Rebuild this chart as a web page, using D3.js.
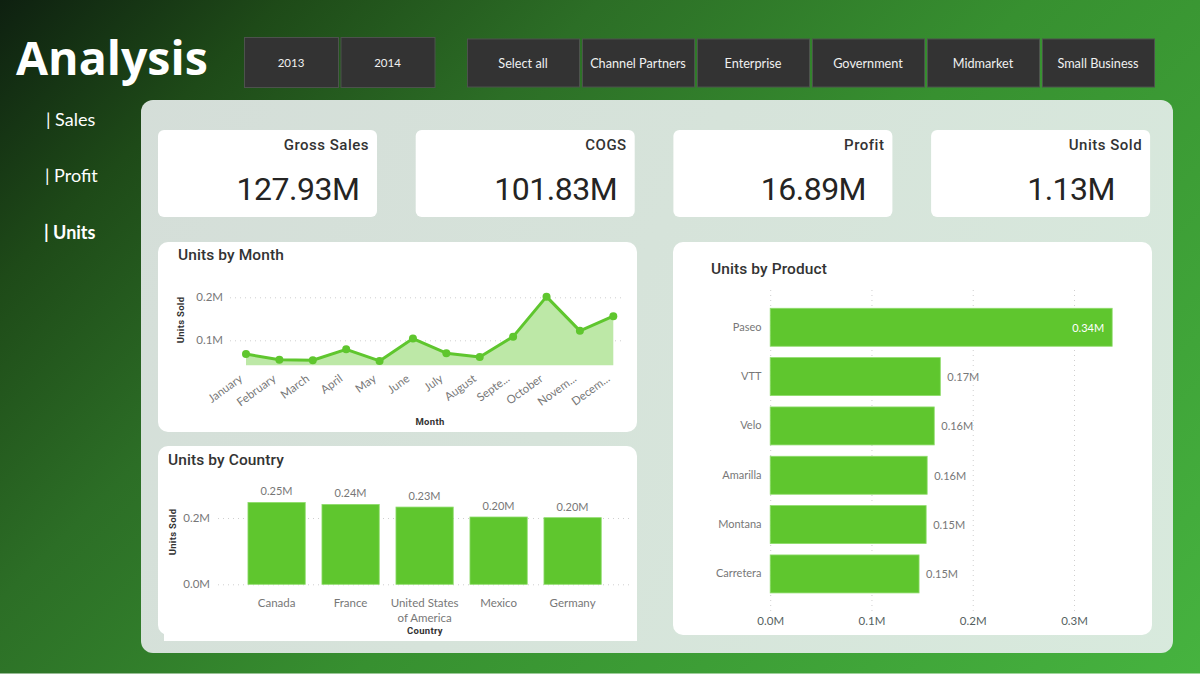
<!DOCTYPE html>
<html>
<head>
<meta charset="utf-8">
<script src="https://cdn.jsdelivr.net/npm/d3@7"></script>
<style>
html,body{margin:0;padding:0;background:#fff;overflow:hidden;}
svg{display:block;}
</style>
</head>
<body>
<script>
var years = ['2013','2014'];
var segments = ['Select all','Channel Partners','Enterprise','Government','Midmarket','Small Business'];
var navItems = ['| Sales','| Profit','| Units'];
var kpiNames = ['Gross Sales','COGS','Profit','Units Sold'];
var kpiValues = ['127.93M','101.83M','16.89M','1.13M'];

var months = ['January','February','March','April','May','June','July','August','September','October','November','December'];
var monthLabels = ['January','February','March','April','May','June','July','August','Septe...','October','Novem...','Decem...'];
var monthUnits = [0.068,0.055,0.0535,0.079,0.052,0.104,0.070,0.061,0.1085,0.2015,0.122,0.156];
var monthTicks = [0.1,0.2];

var countries = ['Canada','France','United States of America','Mexico','Germany'];
var countryUnits = [0.247,0.241,0.233,0.203,0.201];
var countryLabels = ['0.25M','0.24M','0.23M','0.20M','0.20M'];
var countryTicks = [0,0.2];

var products = ['Paseo','VTT','Velo','Amarilla','Montana','Carretera'];
var productUnits = [0.3377,0.168,0.162,0.155,0.154,0.147];
var productLabels = ['0.34M','0.17M','0.16M','0.16M','0.15M','0.15M'];
var productTicks = [0,0.1,0.2,0.3];

var din = 'Roboto, sans-serif';
var segoe = 'Lato, sans-serif';
var green = '#5fc62e';
var fmt = function(d){return d.toFixed(1) + 'M';};

var svg = d3.select('body').append('svg').attr('width',1200).attr('height',675);
var defs = svg.append('defs');

function gradient(id,x2,y2,stops){
	var g = defs.append('linearGradient').attr('id',id)
		.attr('gradientUnits','userSpaceOnUse')
		.attr('x1',0).attr('y1',0).attr('x2',x2).attr('y2',y2);
	stops.forEach(function(s){
		g.append('stop').attr('offset',s[0]).attr('stop-color',s[1]);
	});
}
gradient('bg',937,937,[[0,'#0e2010'],[0.15,'#1e4a18'],[0.32,'#2c6e26'],[0.55,'#379030'],[1,'#46b33f']]);
gradient('panel',1200,674,[[0,'#d4dcd8'],[0.5,'#d6e3da'],[1,'#d8eadd']]);

svg.append('rect').attr('width',1200).attr('height',673.5).attr('fill','url(#bg)');

// header
svg.append('text').attr('x',16).attr('y',75).text('Analysis')
	.attr('font-family','"Open Sans", sans-serif').attr('font-weight',700).attr('font-size',46.5).attr('fill','#fff');

function buttons(names,x0,step,w,y,h,size){
	var b = svg.append('g').selectAll('g').data(names).enter().append('g')
		.attr('transform',function(d,i){return 'translate(' + (x0 + i * step) + ',' + y + ')';});
	b.append('rect').attr('x',0.5).attr('y',0.5).attr('width',w).attr('height',h)
		.attr('fill','#333333').attr('stroke','#4d524d');
	b.append('text').attr('x',w / 2).attr('y',h / 2 + size * 0.37 + 1).text(function(d){return d;})
		.attr('text-anchor','middle').attr('font-family',segoe).attr('font-size',size).attr('fill','#f0f0f0');
}
buttons(years,244,96.5,94,37,50,11.5);
buttons(segments,467,115,112,38.5,48,12.7);

// side nav
svg.append('g').selectAll('text').data(navItems).enter().append('text')
	.attr('x',function(d,i){return [46,45,44][i];})
	.attr('y',function(d,i){return 126 + i * 56.3;})
	.text(function(d){return d;})
	.attr('font-family',segoe).attr('font-size',18)
	.attr('font-weight',function(d,i){return i === 2 ? 700 : 400;})
	.attr('fill','#fff');

// panel and cards
svg.append('rect').attr('x',141).attr('y',100).attr('width',1032).attr('height',553).attr('rx',12).attr('fill','url(#panel)');

var kpi = svg.append('g').selectAll('g').data(kpiNames).enter().append('g')
	.attr('transform',function(d,i){return 'translate(' + (158 + i * 257.7) + ',130)';});
kpi.append('rect').attr('width',219).attr('height',87).attr('rx',6).attr('fill','#fff');
kpi.append('text').attr('x',211).attr('y',20).attr('text-anchor','end').text(function(d){return d;})
	.attr('font-family',din).attr('font-weight',500).attr('font-size',15).attr('letter-spacing',0.5).attr('fill','#333');
kpi.append('text').attr('x',140).attr('y',70).attr('text-anchor','middle').text(function(d,i){return kpiValues[i];})
	.attr('font-family',din).attr('font-size',32).attr('letter-spacing',-0.5).attr('fill','#252423');

function card(x,y,w,h,title,tx,ty){
	svg.append('rect').attr('x',x).attr('y',y).attr('width',w).attr('height',h).attr('rx',10).attr('fill','#fff');
	svg.append('text').attr('x',tx).attr('y',ty).text(title)
		.attr('font-family',din).attr('font-weight',500).attr('font-size',15.5).attr('letter-spacing',0.1).attr('fill','#333');
}
card(158,242,479,190,'Units by Month',178,260);
card(158,446,479,189,'Units by Country',168,465);
svg.append('rect').attr('x',164).attr('y',620).attr('width',473).attr('height',21).attr('fill','#fff');
card(673,242,479,393,'Units by Product',711,274);

function styleAxis(g,size,color){
	g.select('.domain').remove();
	g.selectAll('.tick line').attr('stroke','#cfcfcf').attr('stroke-dasharray','1,4');
	g.selectAll('.tick text').attr('font-family',segoe).attr('font-size',size).attr('fill',color);
}
function axisTitle(x,y,text,rotate){
	svg.append('text').attr('text-anchor','middle')
		.attr('transform','translate(' + x + ',' + y + ')' + (rotate ? ' rotate(-90)' : ''))
		.text(text).attr('font-family',din).attr('font-weight',700).attr('font-size',9.5).attr('letter-spacing',0.3).attr('fill','#333');
}

// Units by Month
var mx = d3.scalePoint().domain(months).range([246,613.3]);
var my = d3.scaleLinear().domain([0.1,0.2]).range([340.3,297.3]);
var mBase = 0.042;
svg.append('g').attr('transform','translate(230,0)')
	.call(d3.axisLeft(my).tickValues(monthTicks).tickFormat(fmt).tickSize(-394).tickPadding(7))
	.call(styleAxis,11.5,'#777');
svg.append('path').datum(monthUnits).attr('fill','#bde8a7')
	.attr('d',d3.area().x(function(d,i){return mx(months[i]);}).y0(my(mBase)).y1(function(d){return my(d);}));
svg.append('path').datum(monthUnits).attr('fill','none').attr('stroke',green).attr('stroke-width',3).attr('stroke-linejoin','round')
	.attr('d',d3.line().x(function(d,i){return mx(months[i]);}).y(function(d){return my(d);}));
svg.append('g').selectAll('circle').data(monthUnits).enter().append('circle')
	.attr('cx',function(d,i){return mx(months[i]);}).attr('cy',function(d){return my(d);}).attr('r',4).attr('fill',green);
svg.append('g').selectAll('text').data(monthLabels).enter().append('text')
	.attr('transform',function(d,i){return 'translate(' + (mx(months[i]) - 5) + ',377) rotate(-36)';})
	.attr('text-anchor','end').attr('dy','0.35em').text(function(d){return d;})
	.attr('font-family',segoe).attr('font-size',11.5).attr('fill','#777');
axisTitle(430,425,'Month',false);
axisTitle(184,320,'Units Sold',true);

// Units by Country
var cx = d3.scaleBand().domain(countries).range([239.6,609.6]).paddingInner(0.226).paddingOuter(0.113);
var cy = d3.scaleLinear().domain([0,0.2]).range([584.3,518]);
svg.append('g').attr('transform','translate(218,0)')
	.call(d3.axisLeft(cy).tickValues(countryTicks).tickFormat(fmt).tickSize(-414).tickPadding(8))
	.call(styleAxis,11.5,'#777');
svg.append('g').selectAll('rect').data(countryUnits).enter().append('rect')
	.attr('x',function(d,i){return cx(countries[i]);}).attr('width',cx.bandwidth())
	.attr('y',function(d){return cy(d);}).attr('height',function(d){return cy(0) - cy(d);})
	.attr('fill',green).attr('stroke','#8fdc6c').attr('stroke-width',0.8);
svg.append('g').selectAll('text').data(countryLabels).enter().append('text')
	.attr('x',function(d,i){return cx(countries[i]) + cx.bandwidth() / 2;})
	.attr('y',function(d,i){return cy(countryUnits[i]) - 7;})
	.attr('text-anchor','middle').text(function(d){return d;})
	.attr('font-family',segoe).attr('font-size',11).attr('fill','#777');
var cLabels = svg.append('g').selectAll('text').data(countries).enter().append('text')
	.attr('text-anchor','middle').attr('font-family',segoe).attr('font-size',11.5).attr('fill','#777')
	.attr('y',607);
cLabels.each(function(d,i){
	var t = d3.select(this), xc = cx(d) + cx.bandwidth() / 2;
	var lines = d === 'United States of America' ? ['United States','of America'] : [d];
	lines.forEach(function(l,j){
		t.append('tspan').attr('x',xc).attr('dy',j ? 14.7 : 0).text(l);
	});
});
axisTitle(425,634,'Country',false);
axisTitle(176,532,'Units Sold',true);

// Units by Product
var px = d3.scaleLinear().domain([0,0.3]).range([770.2,1074]);
var py = d3.scaleBand().domain(products).range([302.6,598.6]).paddingInner(0.23).paddingOuter(0.115);
svg.append('g').attr('transform','translate(0,290)')
	.call(d3.axisBottom(px).tickValues(productTicks).tickFormat(fmt).tickSize(322).tickPadding(5))
	.call(styleAxis,11.5,'#555f5f');
svg.append('g').selectAll('rect').data(productUnits).enter().append('rect')
	.attr('x',px(0)).attr('y',function(d,i){return py(products[i]);})
	.attr('width',function(d){return px(d) - px(0);}).attr('height',py.bandwidth())
	.attr('fill',green).attr('stroke','#8fdc6c').attr('stroke-width',0.8);
svg.append('g').selectAll('text').data(products).enter().append('text')
	.attr('x',761.5).attr('y',function(d){return py(d) + py.bandwidth() / 2;}).attr('dy','0.3em')
	.attr('text-anchor','end').text(function(d){return d;})
	.attr('font-family',segoe).attr('font-size',11).attr('fill','#777');
svg.append('g').selectAll('text').data(productLabels).enter().append('text')
	.attr('x',function(d,i){return i === 0 ? px(productUnits[i]) - 8 : px(productUnits[i]) + 7;})
	.attr('y',function(d,i){return py(products[i]) + py.bandwidth() / 2;}).attr('dy','0.4em')
	.attr('text-anchor',function(d,i){return i === 0 ? 'end' : 'start';})
	.text(function(d){return d;})
	.attr('font-family',segoe).attr('font-size',11)
	.attr('fill',function(d,i){return i === 0 ? '#fff' : '#777';});
</script>
</body>
</html>
